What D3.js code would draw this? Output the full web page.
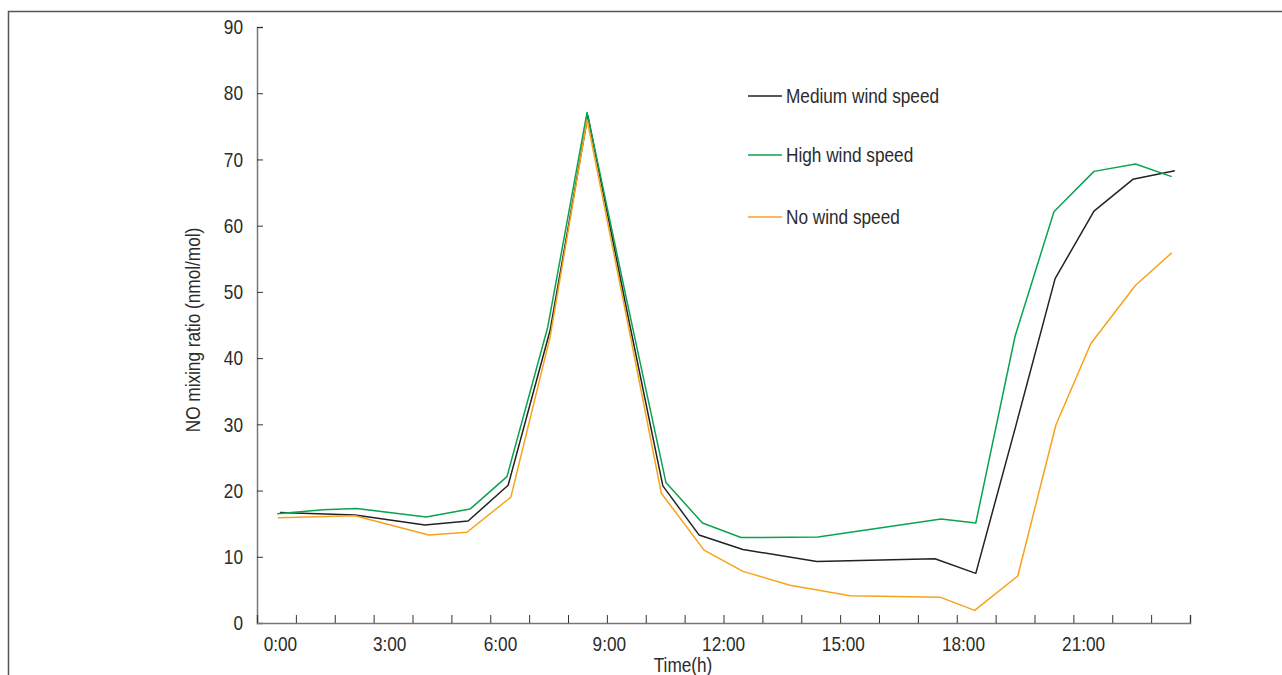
<!DOCTYPE html>
<html>
<head>
<meta charset="utf-8">
<script src="https://cdn.jsdelivr.net/npm/d3@7"></script>
<style>
  body { margin: 0; background: #fff; }
  svg text { font-family: "Liberation Sans", Arial, sans-serif; font-size: 21px; fill: #2b2b2b; }
</style>
</head>
<body>
<svg id="chart" width="1282" height="675"></svg>
<script>
// hour of day and NO mixing ratio, nmol/mol
let mediumHours = [0.09, 2.02, 3.82, 4.93, 5.96, 7.04, 8.01, 9.02, 9.94, 10.87, 12.0, 13.9, 16.94, 17.99, 19.03, 20.03, 21.03, 22.03, 23.11]
let mediumValues = [16.7, 16.3, 14.8, 15.4, 20.8, 44.2, 76.6, 47, 20.7, 13.3, 11.1, 9.3, 9.7, 7.5, 30, 52.0, 62.2, 67.0, 68.3]

let highHours = [0.02, 1.2, 2.06, 3.85, 4.98, 5.93, 6.98, 7.99, 9.02, 10.02, 10.96, 11.95, 13.93, 17.1, 17.99, 19.0, 20.0, 21.03, 22.1, 23.03]
let highValues = [16.5, 17.1, 17.3, 16.0, 17.2, 22.1, 44.7, 77.1, 48.5, 21.2, 15.1, 12.9, 13.0, 15.7, 15.1, 43.3, 62.1, 68.2, 69.3, 67.4]

let noHours = [0.04, 2.02, 3.92, 4.9, 6.03, 7.04, 7.99, 9.02, 9.9, 11.0, 12.0, 13.21, 14.76, 17.07, 17.96, 19.07, 20.05, 20.95, 22.1, 23.03]
let noValues = [15.9, 16.2, 13.3, 13.7, 19.0, 43.2, 76.0, 45.8, 19.6, 11.0, 7.8, 5.7, 4.1, 3.9, 1.9, 7.1, 29.9, 42.2, 51.0, 55.9]

let xTickLabels = ['0:00', '3:00', '6:00', '9:00', '12:00', '15:00', '18:00', '21:00']
let xTickHours = [0.09, 2.9, 5.75, 8.55, 11.49, 14.57, 17.66, 20.75]
let yTicks = [0, 10, 20, 30, 40, 50, 60, 70, 80, 90]

let seriesNames = ['Medium wind speed', 'High wind speed', 'No wind speed']
let seriesColors = ['#222222', '#0aa34f', '#f7a21b']

let series = [
    { name: seriesNames[0], color: seriesColors[0], hours: mediumHours, values: mediumValues },
    { name: seriesNames[1], color: seriesColors[1], hours: highHours, values: highValues },
    { name: seriesNames[2], color: seriesColors[2], hours: noHours, values: noValues }
]

// no narrow font installed, so squeeze Liberation Sans sideways
const squeeze = 0.82

let svg = d3.select('#chart')

// outer frame
svg.append('rect')
    .attr('x', 8.5).attr('y', 11.5)
    .attr('width', 1300).attr('height', 700)
    .attr('fill', 'none')
    .attr('stroke', '#555')
    .attr('stroke-width', 1.5)

let xScale = d3.scaleLinear().domain([-0.5, 23.5]).range([257, 1190])
let yScale = d3.scaleLinear().domain([0, 90]).range([623, 27])

// y axis
let yAxis = svg.append('g')
    .attr('transform', 'translate(257,0)')
    .call(d3.axisLeft(yScale).tickValues(yTicks).tickSize(-6).tickPadding(14))
yAxis.select('.domain').attr('stroke', '#777').attr('stroke-width', 1.5)
yAxis.selectAll('.tick line').attr('stroke', '#333')
yAxis.selectAll('text')
    .attr('x', -14 / squeeze)
    .attr('transform', `scale(${squeeze},1)`)
    .attr('font-family', null).attr('font-size', null)

// x axis: one tick between each hour
let boundaries = d3.range(25).map(i => i - 0.5)
let xAxis = svg.append('g')
    .attr('transform', 'translate(0,623)')
    .call(d3.axisBottom(xScale).tickValues(boundaries).tickSize(-8).tickFormat(''))
xAxis.select('.domain').attr('stroke', '#777').attr('stroke-width', 1.5)
xAxis.selectAll('.tick line').attr('stroke', '#333')

let xLabels = svg.append('g')
    .attr('transform', 'translate(0,623)')
    .call(d3.axisBottom(xScale).tickValues(xTickHours).tickSize(0).tickPadding(13)
        .tickFormat((d, i) => xTickLabels[i]))
xLabels.select('.domain').remove()
xLabels.attr('font-family', null).attr('font-size', null)
xLabels.selectAll('text').attr('transform', `scale(${squeeze},1)`)
yAxis.attr('font-family', null).attr('font-size', null)

// axis titles
svg.append('text')
    .attr('transform', `translate(200,330) rotate(-90) scale(${squeeze},1)`)
    .attr('text-anchor', 'middle')
    .text('NO mixing ratio (nmol/mol)')

svg.append('text')
    .attr('transform', `translate(683,672) scale(${squeeze},1)`)
    .attr('text-anchor', 'middle')
    .text('Time(h)')

// lines
let line = d3.line()
    .x(d => xScale(d[0]))
    .y(d => yScale(d[1]))

svg.selectAll('path.series')
    .data(series)
    .enter()
    .append('path')
    .attr('class', 'series')
    .attr('fill', 'none')
    .attr('stroke', d => d.color)
    .attr('stroke-width', 1.5)
    .attr('stroke-linejoin', 'round')
    .attr('d', d => line(d.hours.map((h, i) => [h, d.values[i]])))

// legend
let legendY = [96, 155, 217]
let legend = svg.selectAll('g.legend')
    .data(series)
    .enter()
    .append('g')
    .attr('class', 'legend')
    .attr('transform', (d, i) => `translate(748,${legendY[i]})`)

legend.append('line')
    .attr('x1', 0).attr('x2', 34)
    .attr('stroke', d => d.color)
    .attr('stroke-width', 1.5)

legend.append('text')
    .attr('transform', `translate(38,0) scale(${squeeze},1)`)
    .attr('dy', '0.35em')
    .text(d => d.name)
</script>
</body>
</html>
